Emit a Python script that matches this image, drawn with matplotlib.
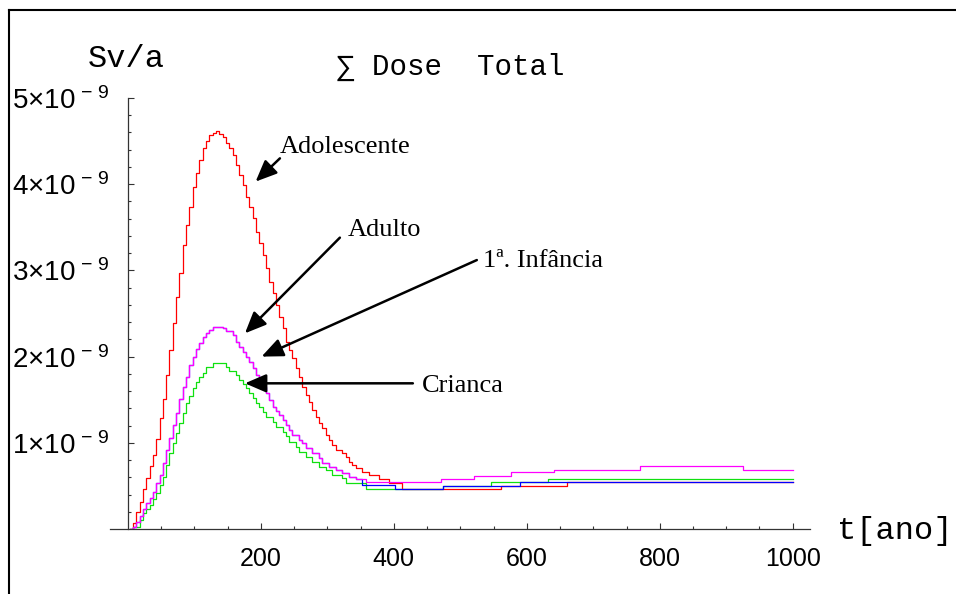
import numpy as np
import matplotlib
matplotlib.use("Agg")
import matplotlib.pyplot as plt
from matplotlib.lines import Line2D

plt.rcParams['mathtext.fontset'] = 'custom'
plt.rcParams['mathtext.rm'] = 'Liberation Sans'
plt.rcParams['mathtext.it'] = 'Liberation Sans'

# dose in units of 1e-9 Sv/a; hump read in 5-year steps starting at t=2.5
step_start = np.arange(2.5, 400, 5)
adolescente_hump = [0, 0.07, 0.20, 0.31, 0.46, 0.59, 0.73, 0.86, 1.04, 1.29,
                    1.51, 1.79, 2.08, 2.39, 2.69, 2.97, 3.29, 3.53, 3.74, 3.97,
                    4.13, 4.28, 4.42, 4.50, 4.57, 4.59, 4.62, 4.58, 4.55, 4.48,
                    4.42, 4.34, 4.22, 4.11, 3.99, 3.85, 3.74, 3.61, 3.45, 3.32,
                    3.18, 3.03, 2.87, 2.74, 2.60, 2.46, 2.33, 2.17, 2.08, 1.98,
                    1.87, 1.76, 1.65, 1.55, 1.47, 1.38, 1.30, 1.23, 1.17, 1.09,
                    1.03, 0.97, 0.92, 0.92, 0.88, 0.84, 0.78, 0.74, 0.71, 0.71,
                    0.66, 0.66, 0.63, 0.63, 0.63, 0.58, 0.58, 0.58, 0.53, 0.53]
adolescente_tail_t = [412, 561, 660, 1000]
adolescente_tail = [0.46, 0.50, 0.54, 0.54]

adulto_hump = [0, 0.02, 0.08, 0.15, 0.23, 0.30, 0.36, 0.43, 0.53, 0.63,
               0.77, 0.92, 1.06, 1.21, 1.35, 1.51, 1.65, 1.76, 1.90, 2.00,
               2.09, 2.16, 2.23, 2.27, 2.31, 2.34, 2.34, 2.34, 2.33, 2.30,
               2.30, 2.25, 2.17, 2.11, 2.05, 2.00, 1.94, 1.87, 1.79, 1.73,
               1.65, 1.58, 1.50, 1.42, 1.37, 1.32, 1.26, 1.21, 1.15, 1.09,
               1.09, 1.03, 1.00, 0.94, 0.94, 0.88, 0.88, 0.82, 0.77, 0.77,
               0.72, 0.72, 0.68, 0.68, 0.65, 0.65, 0.60, 0.60, 0.58, 0.58]
adulto_tail_t = [352.5, 401, 474, 590, 1000]
adulto_tail = [0.51, 0.46, 0.50, 0.54, 0.54]

infancia_hump = adulto_hump
infancia_tail_t = [357.5, 471, 520, 576, 641, 770, 925, 1000]
infancia_tail = [0.54, 0.58, 0.61, 0.66, 0.69, 0.73, 0.69, 0.69]

crianca_hump = [0, 0.02, 0.02, 0.10, 0.19, 0.23, 0.28, 0.35, 0.42, 0.51,
                0.60, 0.74, 0.88, 1.00, 1.11, 1.23, 1.35, 1.46, 1.54, 1.64,
                1.71, 1.76, 1.81, 1.88, 1.88, 1.93, 1.93, 1.93, 1.93, 1.88,
                1.83, 1.83, 1.79, 1.73, 1.68, 1.64, 1.58, 1.52, 1.46, 1.42,
                1.36, 1.30, 1.30, 1.24, 1.18, 1.18, 1.13, 1.08, 1.01, 1.01,
                0.95, 0.89, 0.89, 0.84, 0.84, 0.78, 0.78, 0.72, 0.72, 0.68,
                0.68, 0.63, 0.63, 0.63, 0.59, 0.53, 0.53, 0.53, 0.53, 0.53]
crianca_tail_t = [357.5, 474, 546, 632, 1000]
crianca_tail = [0.46, 0.50, 0.54, 0.58, 0.58]

x_ticks = [200, 400, 600, 800, 1000]
y_ticks = [1, 2, 3, 4, 5]
y_labels = [r'$%d{\times}10^{\,-\,9}$' % v for v in y_ticks]

W, H = 956, 594
fig = plt.figure(figsize=(W / 100, H / 100), dpi=100)
ax = fig.add_axes([110 / W, 65 / H, 700 / W, 431 / H])


def curve(hump, tail_t, tail):
    t = np.concatenate([step_start[:len(hump)], tail_t])
    v = np.concatenate([hump, tail])
    return t, v


for hump, tt, tv, col in [(adolescente_hump, adolescente_tail_t, adolescente_tail, '#FF0000'),
                          (crianca_hump, crianca_tail_t, crianca_tail, '#10E010'),
                          (adulto_hump, adulto_tail_t, adulto_tail, '#0000FF'),
                          (infancia_hump, infancia_tail_t, infancia_tail, '#FF00FF')]:
    t, v = curve(hump, tt, tv)
    ax.plot(t, v, drawstyle='steps-post', color=col, lw=0.9)

ax.set_xlim(-27, 1026)
ax.set_ylim(0, 5)
ax.spines['top'].set_visible(False)
ax.spines['right'].set_visible(False)
ax.spines['left'].set_position(('data', 0))
ax.spines['left'].set_bounds(0, 5)
for s in ['left', 'bottom']:
    ax.spines[s].set_color('#333333')
    ax.spines[s].set_linewidth(0.9)

ax.set_xticks(x_ticks)
ax.set_xticklabels([str(x) for x in x_ticks], fontfamily='Liberation Sans', fontsize=18)
ax.set_xticks(np.arange(50, 1001, 50), minor=True)
ax.set_yticks(y_ticks)
ax.set_yticklabels(y_labels, fontsize=20)
ax.set_yticks(np.arange(0.2, 5.01, 0.2), minor=True)
ax.tick_params(axis='both', which='both', direction='in', color='#333333', width=0.8)
ax.tick_params(axis='x', which='major', length=4, pad=13)
ax.tick_params(axis='y', which='major', length=4, pad=13)
ax.tick_params(axis='both', which='minor', length=2.5)

mono = ['Liberation Mono', 'DejaVu Sans Mono']
fig.text(88 / W, 1 - 59 / H, 'Sv/a', family=mono, fontsize=23, va='center', ha='left')
fig.text(337 / W, 1 - 67 / H, '\u2211 Dose  Total', family=mono, fontsize=21, va='center', ha='left')
fig.text(837 / W, 1 - 531 / H, 't[ano]', family=mono, fontsize=23, va='center', ha='left')

# annotations (head, tail, text position) in data units
serif = 'Liberation Serif'
notes = [('Adolescente', (192, 4.03), (228.6, 4.30), (228.6, 4.36)),
         ('Adulto', (176, 2.27), (318.8, 3.38), (330.8, 3.40)),
         ('1ª. Infância', (201, 2.00), (524.8, 3.12), (533.8, 3.04)),
         ('Crianca', (176, 1.69), (428.6, 1.69), (442, 1.59))]
for label, head, tail, pos in notes:
    ax.annotate('', xy=head, xytext=tail,
                arrowprops=dict(arrowstyle='-|>,head_length=0.65,head_width=0.28',
                                color='black', lw=1.8, shrinkA=0, shrinkB=0,
                                mutation_scale=20))
    ax.text(pos[0], pos[1], label, family=serif, fontsize=19, ha='left', va='baseline')

# outer frame
fig.add_artist(Line2D([9 / W, 9 / W], [0, 1 - 10 / H], transform=fig.transFigure, color='black', lw=1.5))
fig.add_artist(Line2D([9 / W, 1], [1 - 10 / H, 1 - 10 / H], transform=fig.transFigure, color='black', lw=1.5))

fig.savefig('out.png', dpi=100)
